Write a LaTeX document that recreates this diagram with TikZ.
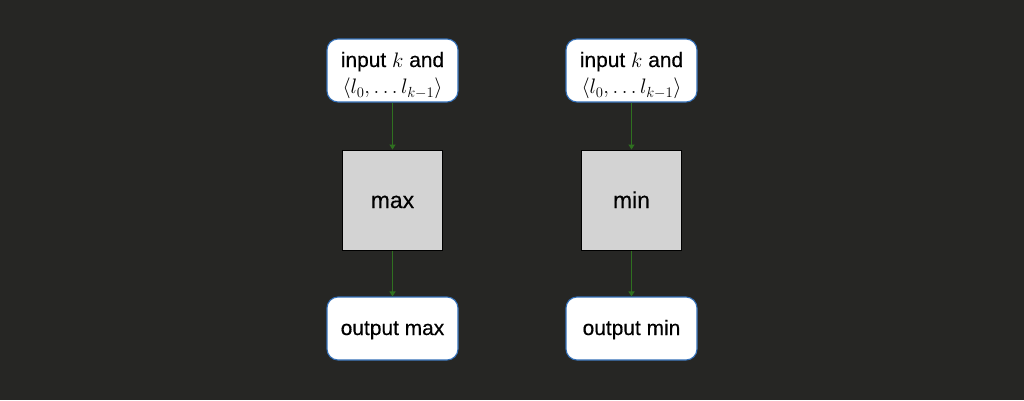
\RequirePackage{fix-cm}
\documentclass[tikz,border=0pt]{standalone}
\usepackage{fontspec}
\setmainfont{Liberation Sans}[UprightFeatures={FakeBold=0.4}]
\usetikzlibrary{arrows.meta}
\definecolor{bg}{HTML}{262624}
\definecolor{edgeblue}{HTML}{3470B8}
\definecolor{arrgreen}{HTML}{2F7020}
\definecolor{boxgray}{HTML}{D3D3D3}
\begin{document}
\begin{tikzpicture}[x=1bp,y=-1bp,
  iobox/.style={draw=edgeblue, line width=1.1bp, fill=white, rounded corners=11bp,
    minimum width=131bp, minimum height=63bp, inner sep=0pt},
  iotext/.style={align=center, inner sep=0pt, font=\fontsize{21}{27}\selectfont},
  linetext/.style={inner sep=0pt, anchor=base, font=\fontsize{21}{27}\selectfont},
  proctext/.style={inner sep=0pt, anchor=base, font=\fontsize{23}{27}\selectfont},
  procbox/.style={draw=black, line width=1bp, fill=boxgray,
    minimum width=100bp, minimum height=100bp, inner sep=0pt},
  flow/.style={draw=arrgreen, line width=1.4bp, -{Triangle[length=5bp,width=6bp]}}]
\fill[bg] (0,0) rectangle (1024,400);
\useasboundingbox (0,0) rectangle (1024,400);
\node[iobox] (in1) at (392.5,70.5) {};
\node[iotext] (in1t) at ([yshift=-5bp]in1.center) {input $k$ and\\$\fontsize{19}{23}\selectfont\langle l_0,\ldots l_{k-1}\rangle$};
\node[procbox] (p1) at (392.5,200) {};
\node[proctext] (p1t) at (392.5,208) {max};
\node[iobox] (out1) at (392.5,328.5) {};
\node[linetext] (out1t) at (392.5,335) {output max};
\node[iobox] (in2) at (631.5,70.5) {};
\node[iotext] (in2t) at ([yshift=-5bp]in2.center) {input $k$ and\\$\fontsize{19}{23}\selectfont\langle l_0,\ldots l_{k-1}\rangle$};
\node[procbox] (p2) at (631.5,200) {};
\node[proctext] (p2t) at (631.5,208) {min};
\node[iobox] (out2) at (631.5,328.5) {};
\node[linetext] (out2t) at (631.5,335) {output min};
\draw[flow] (in1) -- (p1);
\draw[flow] (p1) -- (out1);
\draw[flow] (in2) -- (p2);
\draw[flow] (p2) -- (out2);
\end{tikzpicture}
\end{document}
